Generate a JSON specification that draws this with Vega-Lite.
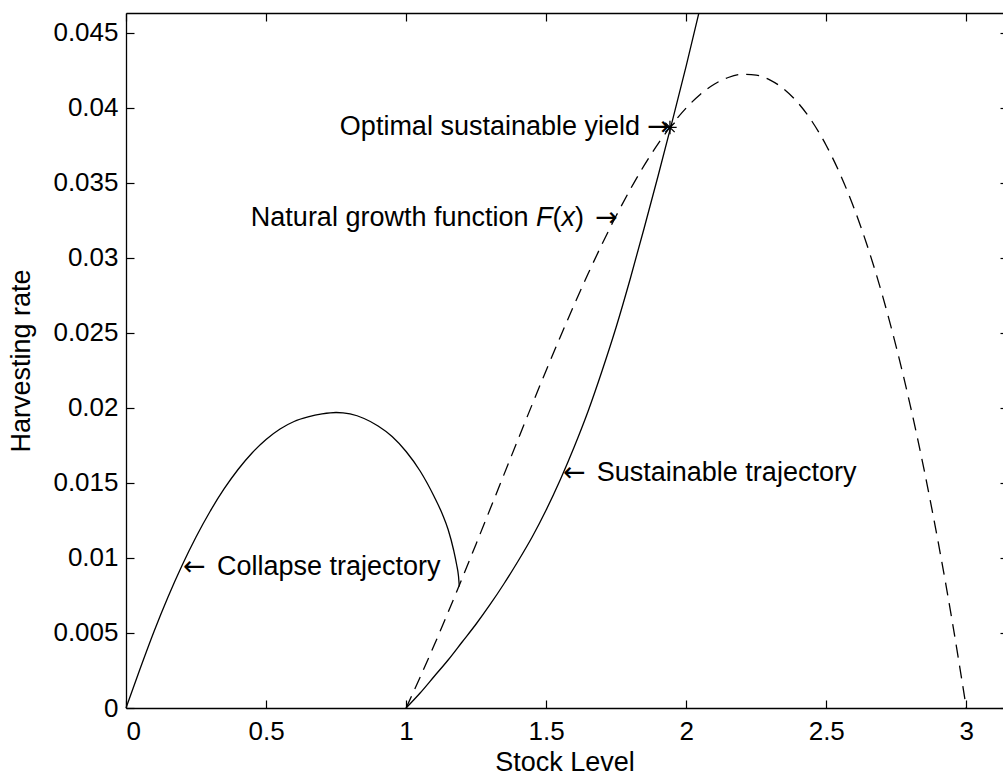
{
  "$schema": "https://vega.github.io/schema/vega-lite/v6.json",
  "width": 877,
  "height": 695,
  "autosize": {"type": "none"},
  "padding": {"left": 126, "top": 13, "right": 0, "bottom": 71},
  "background": "white",
  "config": {
    "view": {"stroke": null},
    "font": "Liberation Sans",
    "axis": {
      "domainColor": "black", "domainWidth": 1.3,
      "tickColor": "black", "tickWidth": 1.2,
      "labelColor": "black", "titleColor": "black",
      "labelFont": "Liberation Sans", "titleFont": "Liberation Sans",
      "labelFontSize": 26, "titleFontSize": 27, "titleFontWeight": "normal",
      "grid": false
    }
  },
  "datasets": {
    "collapse": [
      {"x": 0, "y": 0}, {"x": 0.05, "y": 0.0026}, {"x": 0.1, "y": 0.0051}, {"x": 0.15, "y": 0.0074},
      {"x": 0.2, "y": 0.0095}, {"x": 0.25, "y": 0.0114}, {"x": 0.3, "y": 0.0131}, {"x": 0.35, "y": 0.0146},
      {"x": 0.4, "y": 0.0159}, {"x": 0.45, "y": 0.017}, {"x": 0.5, "y": 0.0179}, {"x": 0.55, "y": 0.0186},
      {"x": 0.6, "y": 0.0191}, {"x": 0.65, "y": 0.0194}, {"x": 0.7, "y": 0.0196}, {"x": 0.75, "y": 0.0197},
      {"x": 0.8, "y": 0.0196}, {"x": 0.85, "y": 0.0193}, {"x": 0.9, "y": 0.0188}, {"x": 0.95, "y": 0.0181},
      {"x": 1.0, "y": 0.0171}, {"x": 1.05, "y": 0.0158}, {"x": 1.1, "y": 0.0141}, {"x": 1.13, "y": 0.0129},
      {"x": 1.15, "y": 0.0119}, {"x": 1.17, "y": 0.0105}, {"x": 1.18, "y": 0.0096}, {"x": 1.187, "y": 0.0088},
      {"x": 1.19, "y": 0.0081}
    ],
    "sustainable": [
      {"x": 1.0, "y": 0}, {"x": 1.05, "y": 0.001}, {"x": 1.1, "y": 0.0021}, {"x": 1.15, "y": 0.0032},
      {"x": 1.2, "y": 0.0044}, {"x": 1.25, "y": 0.0056}, {"x": 1.3, "y": 0.0069}, {"x": 1.35, "y": 0.0083},
      {"x": 1.4, "y": 0.0098}, {"x": 1.45, "y": 0.0114}, {"x": 1.5, "y": 0.0132}, {"x": 1.55, "y": 0.0152},
      {"x": 1.6, "y": 0.0174}, {"x": 1.65, "y": 0.0198}, {"x": 1.7, "y": 0.0225}, {"x": 1.75, "y": 0.0254},
      {"x": 1.8, "y": 0.0286}, {"x": 1.85, "y": 0.032}, {"x": 1.9, "y": 0.0355}, {"x": 1.95, "y": 0.0391},
      {"x": 2.0, "y": 0.0428}, {"x": 2.05, "y": 0.0467}
    ],
    "growth": [
      {"x": 1.0, "y": 0}, {"x": 1.05, "y": 0.00205}, {"x": 1.1, "y": 0.00418}, {"x": 1.15, "y": 0.00638},
      {"x": 1.2, "y": 0.00864}, {"x": 1.25, "y": 0.01094}, {"x": 1.3, "y": 0.01326}, {"x": 1.35, "y": 0.01559},
      {"x": 1.4, "y": 0.01792}, {"x": 1.45, "y": 0.02023}, {"x": 1.5, "y": 0.0225}, {"x": 1.55, "y": 0.02472},
      {"x": 1.6, "y": 0.02688}, {"x": 1.65, "y": 0.02896}, {"x": 1.7, "y": 0.03094}, {"x": 1.75, "y": 0.03281},
      {"x": 1.8, "y": 0.03456}, {"x": 1.85, "y": 0.03617}, {"x": 1.9, "y": 0.03762}, {"x": 1.95, "y": 0.0389},
      {"x": 2.0, "y": 0.04}, {"x": 2.05, "y": 0.0409}, {"x": 2.1, "y": 0.04158}, {"x": 2.15, "y": 0.04203},
      {"x": 2.2, "y": 0.04224}, {"x": 2.25, "y": 0.04219}, {"x": 2.3, "y": 0.04186}, {"x": 2.35, "y": 0.04124},
      {"x": 2.4, "y": 0.04032}, {"x": 2.45, "y": 0.03908}, {"x": 2.5, "y": 0.0375}, {"x": 2.55, "y": 0.03557},
      {"x": 2.6, "y": 0.03328}, {"x": 2.65, "y": 0.03061}, {"x": 2.7, "y": 0.02754}, {"x": 2.75, "y": 0.02406},
      {"x": 2.8, "y": 0.02016}, {"x": 2.85, "y": 0.01582}, {"x": 2.9, "y": 0.01102}, {"x": 2.95, "y": 0.00575},
      {"x": 3.0, "y": 0}
    ],
    "optimum": [{"x": 1.942, "y": 0.0387}],
    "arrowsLeft": [
      {"x": 0.2035, "y": 0.0094, "label": "←"},
      {"x": 1.5603, "y": 0.01567, "label": "←"}
    ],
    "arrowsRight": [
      {"x": 1.942, "y": 0.0387, "label": "→"},
      {"x": 1.7565, "y": 0.03267, "label": "→"}
    ],
    "labelsLeft": [
      {"x": 0.3249, "y": 0.0094, "label": "Collapse trajectory"},
      {"x": 1.6807, "y": 0.01567, "label": "Sustainable trajectory"}
    ],
    "labelsRight": [
      {"x": 1.8351, "y": 0.0387, "label": "Optimal sustainable yield"},
      {"x": 1.6351, "y": 0.03267, "label": ")"},
      {"x": 1.5548, "y": 0.03267, "label": "("},
      {"x": 1.437, "y": 0.03267, "label": "Natural growth function"}
    ],
    "labelsItalic": [
      {"x": 1.603, "y": 0.03267, "label": "x"},
      {"x": 1.5227, "y": 0.03267, "label": "F"}
    ]
  },
  "layer": [
    {
      "data": {"name": "collapse"},
      "mark": {"type": "line", "color": "black", "strokeWidth": 1.3, "interpolate": "monotone"},
      "encoding": {
        "x": {"field": "x", "type": "quantitative",
              "scale": {"domain": [0, 3.131], "nice": false, "zero": false},
              "axis": {"orient": "bottom", "title": "Stock Level", "values": [0, 0.5, 1, 1.5, 2, 2.5, 3],
                       "format": ".1~f", "tickSize": -8, "labelPadding": 18, "titlePadding": 5}},
        "y": {"field": "y", "type": "quantitative",
              "scale": {"domain": [0, 0.04633], "nice": false, "zero": false},
              "axis": {"orient": "left", "title": "Harvesting rate",
                       "values": [0, 0.005, 0.01, 0.015, 0.02, 0.025, 0.03, 0.035, 0.04, 0.045],
                       "format": ".3~f", "tickSize": -8, "labelPadding": 16, "titlePadding": 17}}
      }
    },
    {
      "data": {"name": "growth"},
      "mark": {"type": "line", "color": "black", "strokeWidth": 1.3, "strokeDash": [13, 8], "interpolate": "monotone"},
      "encoding": {
        "x": {"field": "x", "type": "quantitative",
              "scale": {"domain": [0, 3.131], "nice": false, "zero": false},
              "axis": {"orient": "top", "title": null, "labels": false, "values": [0, 0.5, 1, 1.5, 2, 2.5, 3], "tickSize": -8}},
        "y": {"field": "y", "type": "quantitative",
              "scale": {"domain": [0, 0.04633], "nice": false, "zero": false},
              "axis": {"orient": "right", "title": null, "labels": false, "domain": false,
                       "values": [0, 0.005, 0.01, 0.015, 0.02, 0.025, 0.03, 0.035, 0.04, 0.045], "tickSize": -3}}
      }
    },
    {
      "data": {"name": "sustainable"},
      "mark": {"type": "line", "color": "black", "strokeWidth": 1.3, "clip": true, "interpolate": "monotone"},
      "encoding": {
        "x": {"field": "x", "type": "quantitative", "axis": null},
        "y": {"field": "y", "type": "quantitative", "axis": null}
      }
    },
    {
      "data": {"name": "optimum"},
      "mark": {"type": "point", "shape": "M-1,0L1,0M0,-1L0,1M-0.7,-0.7L0.7,0.7M-0.7,0.7L0.7,-0.7",
               "size": 180, "filled": false, "stroke": "black", "strokeWidth": 1.3, "opacity": 1},
      "encoding": {
        "x": {"field": "x", "type": "quantitative", "axis": null},
        "y": {"field": "y", "type": "quantitative", "axis": null}
      }
    },
    {
      "data": {"name": "arrowsLeft"},
      "mark": {"type": "text", "align": "left", "baseline": "middle", "fontSize": 27, "font": "DejaVu Sans", "color": "black"},
      "encoding": {
        "x": {"field": "x", "type": "quantitative", "axis": null},
        "y": {"field": "y", "type": "quantitative", "axis": null},
        "text": {"field": "label"}
      }
    },
    {
      "data": {"name": "arrowsRight"},
      "mark": {"type": "text", "align": "right", "baseline": "middle", "fontSize": 27, "font": "DejaVu Sans", "color": "black"},
      "encoding": {
        "x": {"field": "x", "type": "quantitative", "axis": null},
        "y": {"field": "y", "type": "quantitative", "axis": null},
        "text": {"field": "label"}
      }
    },
    {
      "data": {"name": "labelsLeft"},
      "mark": {"type": "text", "align": "left", "baseline": "middle", "fontSize": 27, "font": "Liberation Sans", "color": "black"},
      "encoding": {
        "x": {"field": "x", "type": "quantitative", "axis": null},
        "y": {"field": "y", "type": "quantitative", "axis": null},
        "text": {"field": "label"}
      }
    },
    {
      "data": {"name": "labelsRight"},
      "mark": {"type": "text", "align": "right", "baseline": "middle", "fontSize": 27, "font": "Liberation Sans", "color": "black"},
      "encoding": {
        "x": {"field": "x", "type": "quantitative", "axis": null},
        "y": {"field": "y", "type": "quantitative", "axis": null},
        "text": {"field": "label"}
      }
    },
    {
      "data": {"name": "labelsItalic"},
      "mark": {"type": "text", "align": "right", "baseline": "middle", "fontSize": 27, "fontStyle": "italic", "font": "Liberation Sans", "color": "black"},
      "encoding": {
        "x": {"field": "x", "type": "quantitative", "axis": null},
        "y": {"field": "y", "type": "quantitative", "axis": null},
        "text": {"field": "label"}
      }
    }
  ],
  "resolve": {"axis": {"x": "independent", "y": "independent"}}
}
